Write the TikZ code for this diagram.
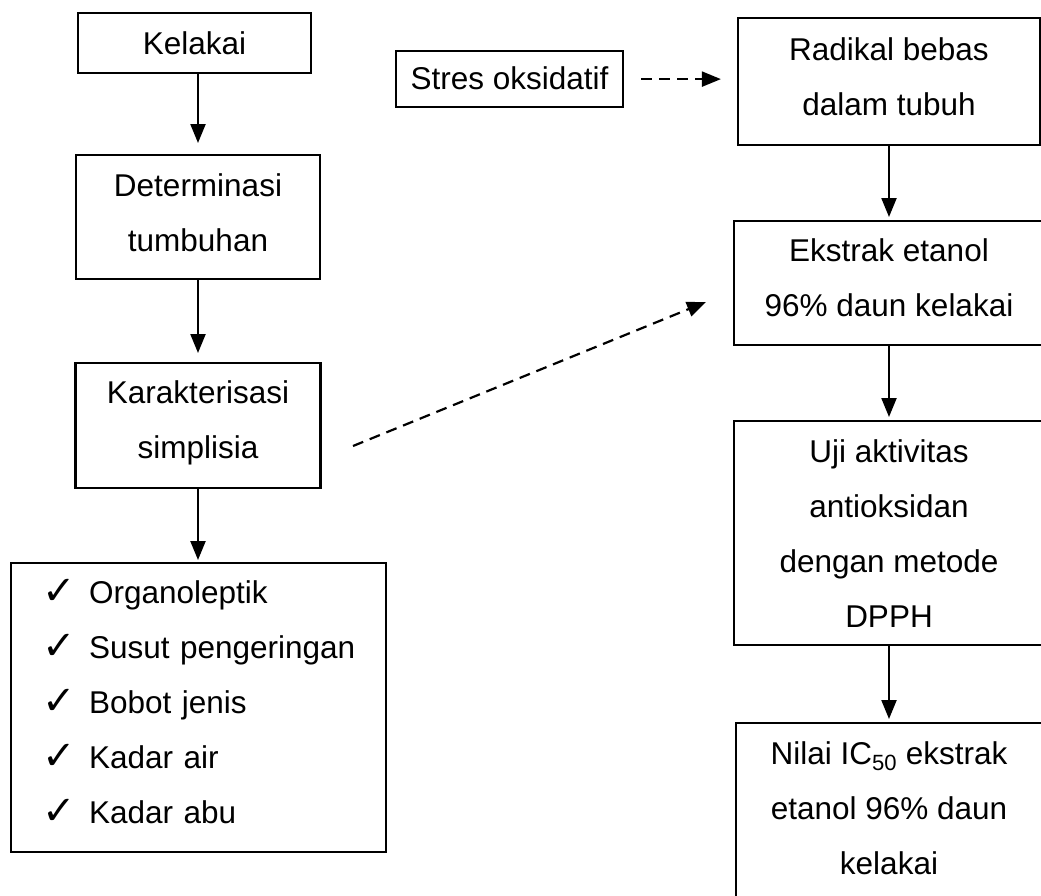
\documentclass[tikz,border=0pt]{standalone}
\usepackage{fontspec}
\setmainfont{Liberation Sans}
\newfontfamily\dejavu{DejaVu Sans}
\usetikzlibrary{arrows.meta}
\newcommand{\tp}[1]{\rule{0pt}{#1pt}}
\newcommand{\bt}[1]{\rule[-#1pt]{0pt}{#1pt}}
\newcommand{\ckitem}[1]{\hspace*{31pt}\makebox[47pt][l]{\raisebox{-1pt}{\dejavu\fontsize{40}{40}\selectfont ✓}}#1}
\begin{document}
\begin{tikzpicture}[x=1pt,y=-1pt,
  box/.style={draw, line width=2.2pt, inner sep=0pt, align=center, anchor=north,
    font=\fontsize{31.5}{55}\selectfont},
  arr/.style={line width=2.2pt, -{Triangle[length=19pt,width=15pt]}},
  darr/.style={arr, dash pattern=on 11pt off 7pt}]
\useasboundingbox (0,0) rectangle (1041,895);
\clip (0,0) rectangle (1041,895);
\fill[white] (0,0) rectangle (1041,895);

% left column
\node[box, minimum width=233pt] (kel) at (194.5,12) {\tp{41}Kelakai\bt{19}};
\node[box, minimum width=244pt] (det) at (198,154) {\tp{41}Determinasi\\tumbuhan\bt{28}};
\node[box, minimum width=245pt] (kar) at (198,362) {\tp{40}Karakterisasi\\simplisia\bt{30}};
\node[box, align=left, text width=375pt, anchor=north west] (chk) at (10,562)
  {\tp{40}\ckitem{Organoleptik}\\\ckitem{Susut pengeringan}\\\ckitem{Bobot jenis}\\\ckitem{Kadar air}\\\ckitem{Kadar abu}\bt{29}};

% right column
\node[box, minimum width=227pt] (str) at (509.5,50) {\tp{38}Stres oksidatif\bt{18}};
\node[box, minimum width=302pt] (rad) at (889,17) {\tp{42}Radikal bebas\\dalam tubuh\bt{30}};
\node[box, minimum width=310pt] (eks) at (889,220) {\tp{40}Ekstrak etanol\\96\% daun kelakai\bt{29}};
\node[box, minimum width=310pt] (uji) at (889,420) {\tp{41}Uji aktivitas\\antioksidan\\dengan metode\\DPPH\bt{18}};
\node[box, minimum width=306pt] (nil) at (889,722) {\tp{41}Nilai IC\textsubscript{50} ekstrak\\etanol 96\% daun\\kelakai\bt{40}};

% connectors
\draw[arr, shorten >=11pt] (det.north |- kel.south) -- (det.north);
\draw[arr, shorten >=9pt] (det) -- (kar);
\draw[arr, shorten >=2pt] (kar.south) -- (kar.south |- chk.north);
\draw[arr, shorten >=3pt] (rad) -- (eks);
\draw[arr, shorten >=3pt] (eks) -- (uji);
\draw[arr, shorten >=3pt] (uji) -- (nil);
\draw[darr, shorten <=17pt, shorten >=16pt] (str.east) -- (str.east -| rad.west);
\coordinate (d1) at (353,446);
\coordinate (d2) at (706,302);
\draw[darr] (d1) -- (d2);
\end{tikzpicture}
\end{document}
